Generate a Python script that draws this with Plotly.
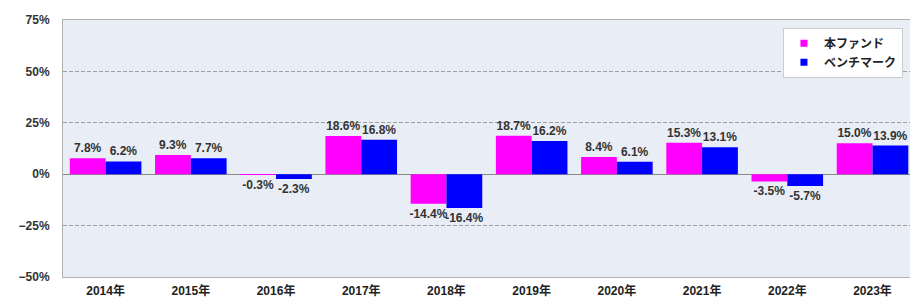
import plotly.graph_objects as go

years = ["2014年", "2015年", "2016年", "2017年", "2018年", "2019年", "2020年", "2021年", "2022年", "2023年"]
fund = [7.8, 9.3, -0.3, 18.6, -14.4, 18.7, 8.4, 15.3, -3.5, 15.0]
bench = [6.2, 7.7, -2.3, 16.8, -16.4, 16.2, 6.1, 13.1, -5.7, 13.9]
names = ["本ファンド", "ベンチマーク"]
colors = ["#FF00FF", "#0000FF"]

FONT = "Liberation Sans, Arial, Noto Sans CJK JP, sans-serif"

fig = go.Figure()
for vals, nm, col in zip([fund, bench], names, colors):
    fig.add_trace(go.Bar(
        x=years, y=vals, name=nm, marker=dict(color=col, line=dict(width=0)),
        text=[f"{v:.1f}%" for v in vals], textposition="outside",
        textfont=dict(family=FONT, size=12, color="#333333", weight="bold"),
        constraintext="none", cliponaxis=False, showlegend=False,
    ))
    fig.add_trace(go.Scatter(
        x=[None], y=[None], mode="markers", name=nm,
        marker=dict(symbol="square", size=7, color=col),
    ))

fig.update_layout(
    width=910, height=304,
    margin=dict(l=63, r=0, t=20, b=27),
    paper_bgcolor="white", plot_bgcolor="#E9EDF5",
    barmode="group", bargap=0.16, bargroupgap=0,
    font=dict(family=FONT, size=12, color="#333333"),
    legend=dict(
        x=0.85, y=0.97, xanchor="left", yanchor="top",
        bgcolor="white", bordercolor="#cccccc", borderwidth=1,
        font=dict(family=FONT, size=12, color="#222222", weight="bold"),
        itemwidth=30, tracegroupgap=0,
    ),
    xaxis=dict(
        range=[-0.5, 9.44], showgrid=False, showline=True, mirror=True,
        linecolor="#b0b0b0", linewidth=1, ticks="",
        tickfont=dict(family=FONT, size=12, color="#222222", weight="bold"),
        ticklabelstandoff=3, fixedrange=True,
    ),
    yaxis=dict(
        range=[-50, 75], dtick=25, ticksuffix="%",
        showgrid=True, gridcolor="#a0a0a0", griddash="4px,2px", gridwidth=1,
        zeroline=True, zerolinecolor="#8a8a8a", zerolinewidth=1,
        showline=True, linecolor="#b0b0b0", linewidth=1,
        tickfont=dict(family=FONT, size=12, color="#333333", weight="bold"),
        ticklabelstandoff=10, fixedrange=True,
    ),
)

fig.write_html(
    "out.html",
    config={"displayModeBar": False},
    post_script="document.body.style.margin='0';document.body.style.overflow='hidden';",
)
